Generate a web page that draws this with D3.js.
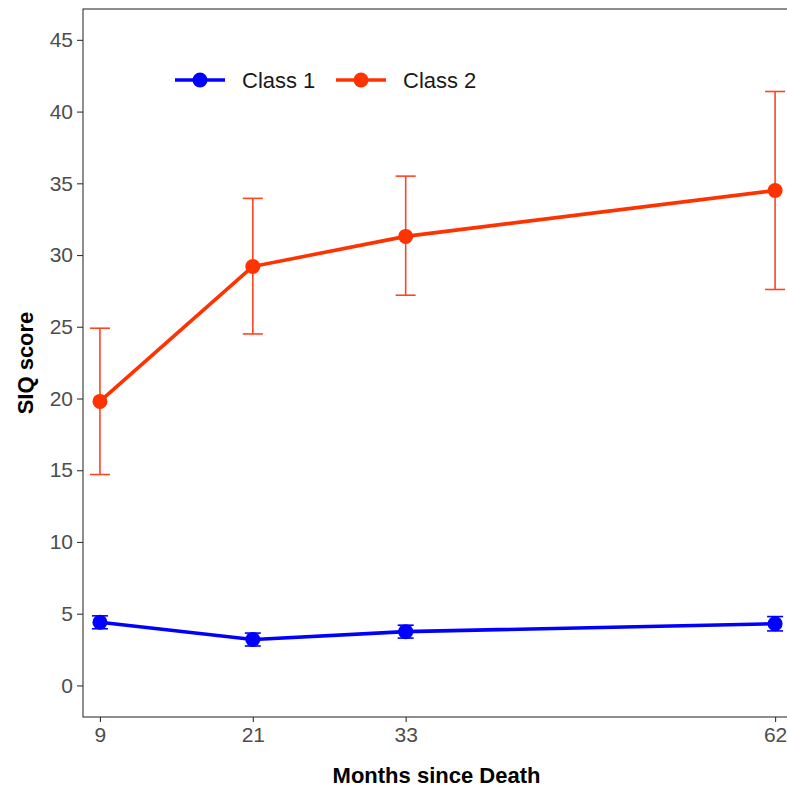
<!DOCTYPE html>
<html lang="en">
<head>
    <meta charset="UTF-8">
    <title>SIQ score by class</title>
    <script src="https://d3js.org/d3.v7.min.js"></script>
    <style>
        body { margin: 0; background: #fff; }
        .axis text { font-family: "Liberation Sans", Arial, sans-serif; font-size: 21px; fill: #4d4d4d; }
        .axis path { display: none; }
        .axis line { stroke: #333; stroke-width: 1.1; }
        .title { font-family: "Liberation Sans", Arial, sans-serif; font-size: 22px; font-weight: bold; fill: #000; }
        .legend text { font-family: "Liberation Sans", Arial, sans-serif; font-size: 22px; fill: #1a1a1a; }
    </style>
</head>
<body>
    <div id="chart"></div>

    <script>
        // data
        var months = [9, 21, 33, 62];
        var class1 = [4.4, 3.2, 3.75, 4.3];
        var class1Lo = [3.95, 2.75, 3.3, 3.8];
        var class1Hi = [4.85, 3.65, 4.2, 4.8];
        var class2 = [19.8, 29.2, 31.3, 34.5];
        var class2Lo = [14.7, 24.5, 27.2, 27.6];
        var class2Hi = [24.9, 33.95, 35.5, 41.4];
        var yTicks = [0, 5, 10, 15, 20, 25, 30, 35, 40, 45];
        var seriesNames = ["Class 1", "Class 2"];

        var series = [
            { name: seriesNames[0], color: "#0000ff", bar: "#0000ff", cap: 16, vals: class1, lo: class1Lo, hi: class1Hi },
            { name: seriesNames[1], color: "#ff3300", bar: "#ff4422", cap: 20, vals: class2, lo: class2Lo, hi: class2Hi }
        ];

        var svg = d3.select("#chart").append("svg")
            .attr("width", 787)
            .attr("height", 789),
            margin = {top: 9, right: -3, bottom: 72, left: 83},
            width = 787 - margin.left - margin.right,
            height = 789 - margin.top - margin.bottom;

        var x = d3.scaleLinear().domain([7.67, 63.17]).range([0, width]);
        var y = d3.scaleLinear().domain([-2.2, 47.15]).range([height, 0]);

        var g = svg.append("g")
            .attr("transform", "translate(" + margin.left + "," + margin.top + ")");

        // panel border
        g.append("rect")
            .attr("width", width)
            .attr("height", height)
            .attr("fill", "none")
            .attr("stroke", "#333")
            .attr("stroke-width", 1.1);

        g.append("g")
            .attr("class", "axis")
            .attr("transform", "translate(0," + height + ")")
            .call(d3.axisBottom(x).tickValues(months).tickSize(5).tickPadding(5));

        g.append("g")
            .attr("class", "axis")
            .call(d3.axisLeft(y).tickValues(yTicks).tickSize(6).tickPadding(4));

        series.forEach(function(s) {
            var pts = months.map(function(m, i) { return {m: m, v: s.vals[i], lo: s.lo[i], hi: s.hi[i]}; });

            // error bars
            var eb = g.append("g").selectAll("g").data(pts).enter().append("g")
                .attr("stroke", s.bar).attr("stroke-width", 1.6);
            eb.append("line")
                .attr("x1", function(d) { return x(d.m); })
                .attr("x2", function(d) { return x(d.m); })
                .attr("y1", function(d) { return y(d.lo); })
                .attr("y2", function(d) { return y(d.hi); });
            eb.append("line")
                .attr("x1", function(d) { return x(d.m) - s.cap / 2; })
                .attr("x2", function(d) { return x(d.m) + s.cap / 2; })
                .attr("y1", function(d) { return y(d.lo); })
                .attr("y2", function(d) { return y(d.lo); });
            eb.append("line")
                .attr("x1", function(d) { return x(d.m) - s.cap / 2; })
                .attr("x2", function(d) { return x(d.m) + s.cap / 2; })
                .attr("y1", function(d) { return y(d.hi); })
                .attr("y2", function(d) { return y(d.hi); });

            var line = d3.line()
                .x(function(d) { return x(d.m); })
                .y(function(d) { return y(d.v); });

            g.append("path")
                .datum(pts)
                .attr("fill", "none")
                .attr("stroke", s.color)
                .attr("stroke-width", 3.6)
                .attr("d", line);

            g.append("g").selectAll("circle").data(pts).enter().append("circle")
                .attr("cx", function(d) { return x(d.m); })
                .attr("cy", function(d) { return y(d.v); })
                .attr("r", 7.5)
                .attr("fill", s.color);
        });

        // legend
        var legend = svg.append("g").attr("class", "legend")
            .attr("transform", "translate(175,80)");
        var item = legend.selectAll("g").data(series).enter().append("g")
            .attr("transform", function(d, i) { return "translate(" + (i * 161) + ",0)"; });
        item.append("line")
            .attr("x1", 0).attr("x2", 50)
            .attr("stroke", function(d) { return d.color; })
            .attr("stroke-width", 3.6);
        item.append("circle")
            .attr("cx", 25).attr("r", 7.5)
            .attr("fill", function(d) { return d.color; });
        item.append("text")
            .attr("x", 67)
            .attr("dy", "0.35em")
            .text(function(d) { return d.name; });

        // axis titles
        svg.append("text")
            .attr("class", "title")
            .attr("text-anchor", "middle")
            .attr("x", margin.left + width / 2)
            .attr("y", 783)
            .text("Months since Death");

        svg.append("text")
            .attr("class", "title")
            .attr("text-anchor", "middle")
            .attr("transform", "translate(33," + (margin.top + height / 2) + ") rotate(-90)")
            .text("SIQ score");
    </script>
</body>
</html>
